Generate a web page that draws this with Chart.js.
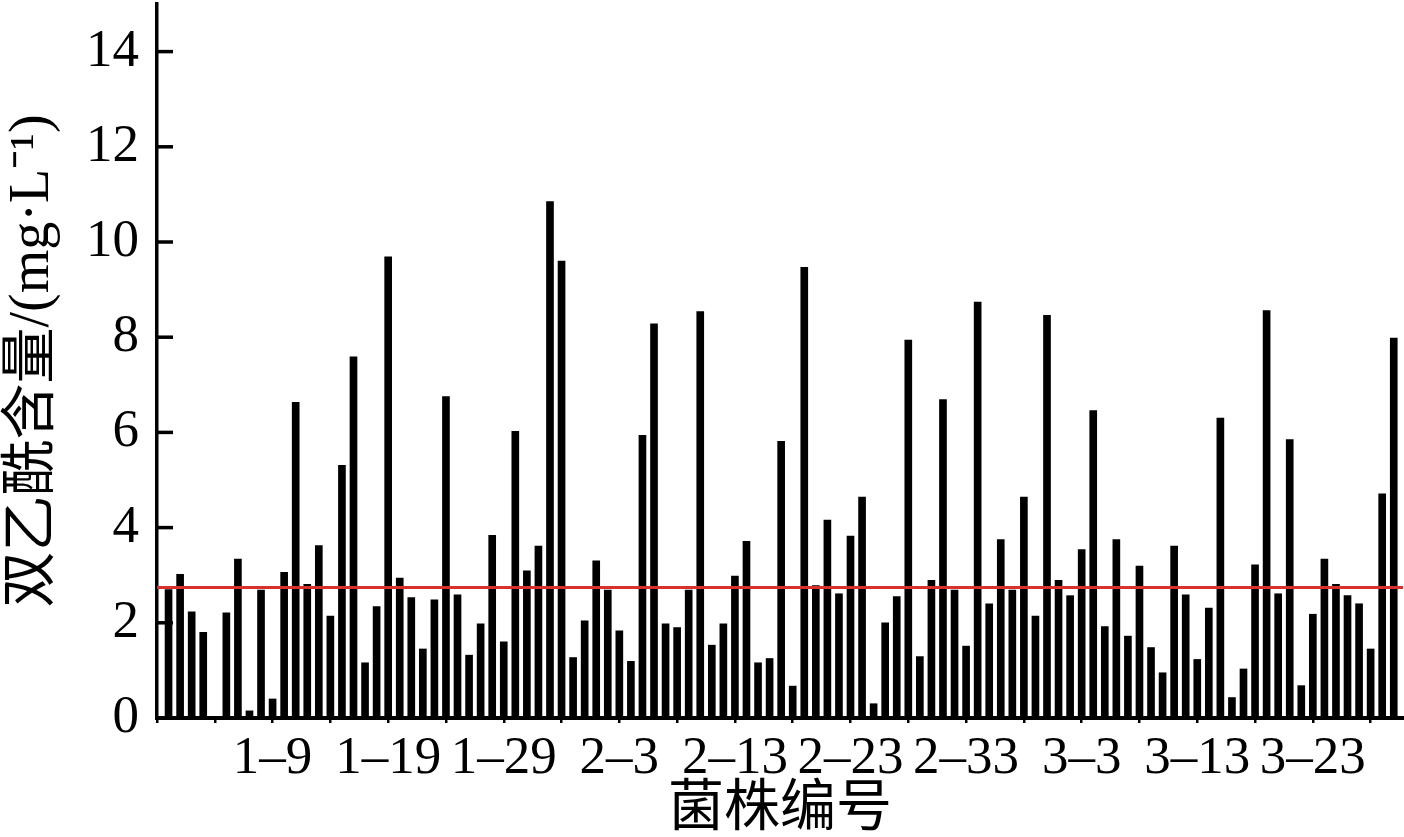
<!DOCTYPE html>
<html>
<head>
<meta charset="utf-8">
<script src="https://cdn.jsdelivr.net/npm/chart.js@4/dist/chart.umd.min.js"></script>
<style>
  body { margin: 0; background: #fff; }
  #wrap { width: 1404px; height: 837px; position: relative; }
</style>
</head>
<body>
<div id="wrap"><canvas id="diacetylChart"></canvas></div>
<script>
// strain groups (first bar is the control strain, no label)
const groupPrefixes = ["1", "2", "3"];
const groupSizes = [36, 40, 30];

// diacetyl content, mg/L (control first)
const diacetyl = [
  2.70,
  3.02, 2.23, 1.80, 0, 2.21, 3.34, 0.15, 2.69, 0.40, 3.06,
  6.63, 2.81, 3.62, 2.14, 5.31, 7.59, 1.16, 2.34, 9.69, 2.94,
  2.53, 1.45, 2.48, 6.75, 2.59, 1.32, 1.98, 3.84, 1.60, 6.02,
  3.09, 3.61, 10.85, 9.60, 1.27, 2.04,
  3.30, 2.69, 1.83, 1.19, 5.94, 8.28, 1.98, 1.90, 2.69, 8.54,
  1.53, 1.98, 2.98, 3.71, 1.16, 1.25, 5.81, 0.67, 9.47, 2.78,
  4.16, 2.61, 3.82, 4.64, 0.30, 2.00, 2.55, 7.94, 1.29, 2.89,
  6.69, 2.69, 1.51, 8.74, 2.40, 3.75, 2.69, 4.64, 2.14, 8.46,
  2.89, 2.57, 3.54, 6.46, 1.92, 3.75, 1.72, 3.19, 1.48, 0.95,
  3.61, 2.59, 1.23, 2.31, 6.30, 0.43, 1.03, 3.22, 8.56, 2.61,
  5.85, 0.68, 2.18, 3.34, 2.81, 2.57, 2.40, 1.45, 4.71, 7.98
];

// red reference line = control level
const controlLevel = 2.74;

const yTicks = [0, 2, 4, 6, 8, 10, 12, 14];

// build strain names: CK, 1–1 ... 3–30
const strainNames = ["CK"];
groupPrefixes.forEach((p, gi) => {
  for (let n = 1; n <= groupSizes[gi]; n++) {
    strainNames.push(p + "–" + n);
  }
});

const xMax = 107.8;

const barPoints = diacetyl.map((v, i) => ({ x: i + 1, y: v }));

//plugin for the inward tick marks on the y axis
const innerTicks = {
  id: "innerTicks",
  afterDraw(chart) {
    const { ctx, scales: { x, y } } = chart;
    ctx.save();
    ctx.strokeStyle = "#000";
    ctx.lineWidth = 3.5;
    yTicks.forEach(v => {
      const py = y.getPixelForValue(v);
      ctx.beginPath();
      ctx.moveTo(x.left, py);
      ctx.lineTo(x.left + 16, py);
      ctx.stroke();
    });
    ctx.restore();
  }
};

const serif = "'Liberation Serif', 'Times New Roman', 'Noto Sans CJK SC', serif";

const ctx = document.getElementById("diacetylChart").getContext("2d");
new Chart(ctx, {
  type: "bar",
  data: {
    datasets: [
      {
        type: "line",
        data: [{ x: 0, y: controlLevel }, { x: xMax, y: controlLevel }],
        borderColor: "#d7312f",
        borderWidth: 3,
        pointRadius: 0,
        fill: false,
        order: 0
      },
      {
        data: barPoints,
        backgroundColor: "#000",
        barThickness: 7,
        order: 1
      }
    ]
  },
  options: {
    responsive: true,
    maintainAspectRatio: false,
    animation: false,
    layout: { padding: { top: 4, right: 1, left: 0, bottom: 0 } },
    plugins: {
      legend: { display: false },
      tooltip: { enabled: false }
    },
    scales: {
      x: {
        type: "linear",
        min: 0,
        max: xMax,
        offset: false,
        afterFit: s => { s.height = 119; s.paddingLeft = 0; s.paddingRight = 0; },
        border: { color: "#000", width: 4 },
        grid: {
          offset: false,
          drawOnChartArea: false,
          drawTicks: true,
          tickLength: 5,
          color: "#000",
          lineWidth: 2.5
        },
        ticks: {
          stepSize: 5,
          autoSkip: false,
          maxRotation: 0,
          includeBounds: false,
          padding: 4,
          color: "#000",
          font: { family: serif, size: 53 },
          callback: v => (v > 0 && v % 10 === 0) ? strainNames[v - 1] : ""
        },
        title: {
          display: true,
          text: "菌株编号",
          color: "#000",
          padding: { top: 0, bottom: 0 },
          font: { family: "'Noto Sans CJK SC', sans-serif", size: 56, weight: "normal" }
        }
      },
      y: {
        min: 0,
        max: 15,
        afterFit: s => { s.width = 157; s.paddingTop = 0; s.paddingBottom = 0; },
        border: { color: "#000", width: 3.5 },
        grid: { display: false, drawTicks: false },
        ticks: {
          stepSize: 2,
          includeBounds: false,
          padding: 18,
          color: "#000",
          font: { family: serif, size: 53 }
        },
        title: {
          display: true,
          text: "双乙酰含量/(mg·L⁻¹)",
          color: "#000",
          padding: { top: 0, bottom: 0 },
          font: { family: serif, size: 56, weight: "normal" }
        }
      }
    }
  },
  plugins: [innerTicks]
});
</script>
</body>
</html>
